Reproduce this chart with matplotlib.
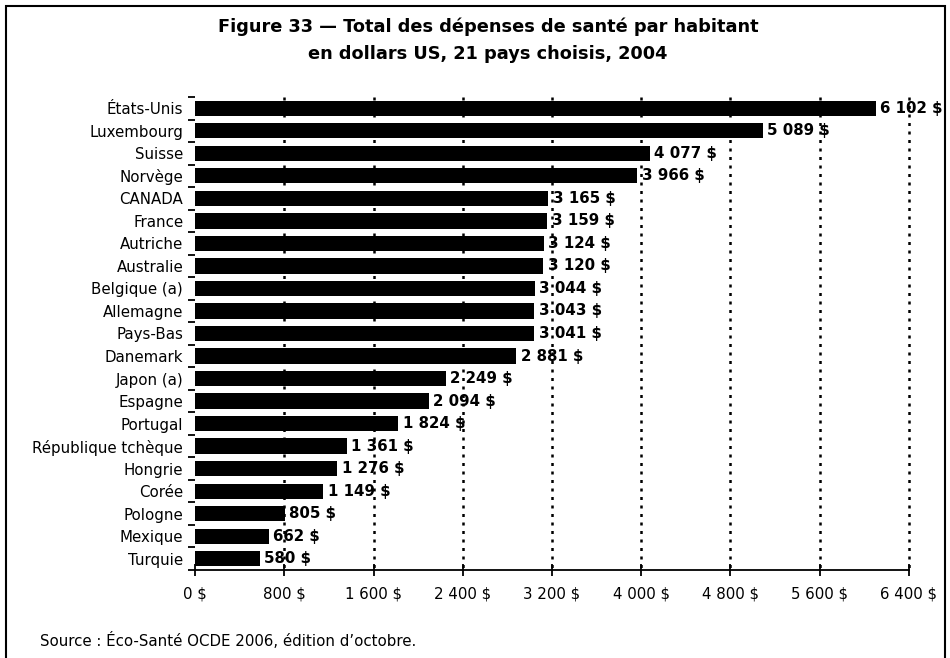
import numpy as np
import matplotlib
matplotlib.use("Agg")
import matplotlib.pyplot as plt
from matplotlib.patches import Rectangle

pays = ["États-Unis", "Luxembourg", "Suisse", "Norvège", "CANADA", "France",
        "Autriche", "Australie", "Belgique (a)", "Allemagne", "Pays-Bas",
        "Danemark", "Japon (a)", "Espagne", "Portugal", "République tchèque",
        "Hongrie", "Corée", "Pologne", "Mexique", "Turquie"]
depenses = [6102, 5089, 4077, 3966, 3165, 3159, 3124, 3120, 3044, 3043, 3041,
            2881, 2249, 2094, 1824, 1361, 1276, 1149, 805, 662, 580]
graduations = [0, 800, 1600, 2400, 3200, 4000, 4800, 5600, 6400]


def en_dollars(v):
    return f"{v:,}".replace(",", " ") + " $"


plt.rcParams["font.family"] = "DejaVu Sans"

fig = plt.figure(figsize=(9.5, 6.58), dpi=100)
ax = fig.add_axes([195 / 950, 1 - 570 / 658, 714 / 950, 473 / 658])

y = np.arange(len(pays))
ax.barh(y, depenses, height=0.68, color="black", zorder=2)

for yi, v in zip(y, depenses):
    ax.text(v + 40, yi, en_dollars(v), va="center", ha="left",
            fontsize=10.8, fontweight="bold", zorder=3)

# lignes pointillées verticales
ax.vlines(graduations[1:], -0.5, len(pays) - 0.5, colors="black",
          linestyles=(0, (1.2, 2.2)), linewidth=1.8, zorder=5, clip_on=False)

ax.set_xlim(0, 6400)
ax.set_ylim(len(pays) - 0.5, -0.5)
ax.set_xticks(graduations)
ax.set_xticklabels([en_dollars(g) for g in graduations], fontsize=10.8)
ax.tick_params(axis="x", direction="inout", length=8, width=1.3, pad=8)

ax.set_yticks(y)
ax.set_yticklabels(pays, fontsize=10.8)
ax.tick_params(axis="y", which="major", length=0, pad=8.5)
ax.set_yticks(np.arange(-0.5, len(pays), 1), minor=True)
ax.tick_params(axis="y", which="minor", direction="out", length=5, width=1.3)

for s in ["top", "right", "left"]:
    ax.spines[s].set_visible(False)
ax.spines["bottom"].set_linewidth(1.3)

fig.text(488 / 950, 1 - 27 / 658, "Figure 33 — Total des dépenses de santé par habitant",
         ha="center", va="center", fontsize=12.8, fontweight="bold")
fig.text(488 / 950, 1 - 54 / 658, "en dollars US, 21 pays choisis, 2004",
         ha="center", va="center", fontsize=12.8, fontweight="bold")
fig.text(40 / 950, 1 - 640 / 658, "Source : Éco-Santé OCDE 2006, édition d’octobre.",
         ha="left", va="center", fontsize=10.8)

# cadre autour de la figure
fig.patches.append(Rectangle((6 / 950, -0.05), 939 / 950, 1.05 - 6 / 658,
                             transform=fig.transFigure, fill=False,
                             edgecolor="black", linewidth=1.5))

fig.savefig("out.png", dpi=100)
